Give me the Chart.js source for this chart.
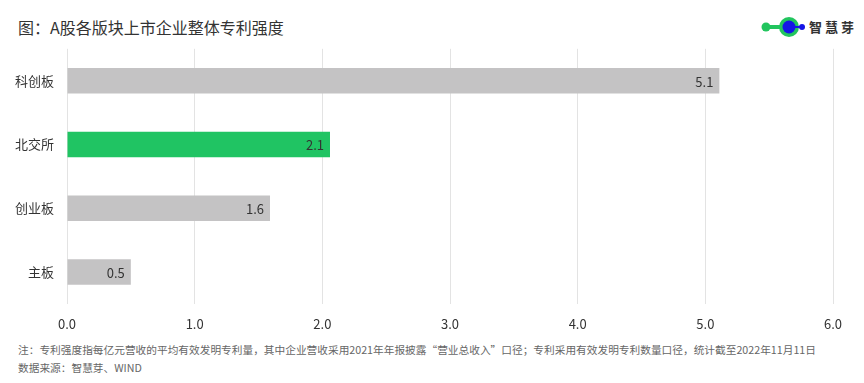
<!DOCTYPE html>
<html>
<head>
<meta charset="utf-8">
<script src="https://cdn.jsdelivr.net/npm/chart.js@4"></script>
<style>
  body { margin: 0; width: 864px; height: 383px; background: #fff; position: relative; overflow: hidden;
         font-family: "Noto Sans CJK SC", "Noto Sans", sans-serif; }
  #title { position: absolute; left: 18px; top: 15px; font-size: 16px; color: #333; }
  #logo { position: absolute; left: 760px; top: 16px; }
  #logoText { position: absolute; left: 809px; top: 17px; font-size: 13px; font-weight: bold; color: #333; letter-spacing: 3px; }
  #wrap { position: absolute; left: 0; top: 28px; width: 864px; height: 306px; }
  .note { position: absolute; left: 18px; font-size: 10.7px; color: #666; white-space: nowrap; }
</style>
</head>
<body>
<div id="title">图：A股各版块上市企业整体专利强度</div>
<svg id="logo" width="48" height="22">
  <line x1="6" y1="11" x2="29" y2="11" stroke="#22c55e" stroke-width="4"/>
  <circle cx="6" cy="11" r="4.5" fill="#22c55e"/>
  <circle cx="29" cy="11" r="10" fill="#22c55e"/>
  <line x1="29" y1="11" x2="42" y2="11" stroke="#1515e6" stroke-width="2"/>
  <circle cx="29" cy="11" r="6.5" fill="#1515e6"/>
  <circle cx="42" cy="11" r="3" fill="#1515e6"/>
</svg>
<div id="logoText">智慧芽</div>
<div id="wrap"><canvas id="chart"></canvas></div>
<div class="note" style="top:342px">注：专利强度指每亿元营收的平均有效发明专利量，其中企业营收采用2021年年报披露“营业总收入”口径；专利采用有效发明专利数量口径，统计截至2022年11月11日</div>
<div class="note" style="top:360px">数据来源：智慧芽、WIND</div>
<script>
const categories = ['科创板', '北交所', '创业板', '主板'];
const values = [5.11, 2.06, 1.59, 0.5];
const barColors = ['#c4c3c4', '#20c463', '#c4c3c4', '#c4c3c4'];
const xTicks = [0, 1, 2, 3, 4, 5, 6];

const valueLabels = {
  id: 'valueLabels',
  afterDatasetsDraw(chart) {
    const ctx = chart.ctx;
    const meta = chart.getDatasetMeta(0);
    ctx.save();
    ctx.font = '13px "Noto Sans CJK SC", "Noto Sans", sans-serif';
    ctx.fillStyle = '#333';
    ctx.textAlign = 'right';
    ctx.textBaseline = 'middle';
    meta.data.forEach((bar, i) => {
      ctx.fillText(values[i].toFixed(1), bar.x - 6, bar.y + 1);
    });
    ctx.restore();
  }
};

new Chart(document.getElementById('chart'), {
  type: 'bar',
  data: {
    labels: categories,
    datasets: [{
      data: values,
      backgroundColor: barColors,
      borderWidth: 0,
      barPercentage: 0.4,
      categoryPercentage: 1
    }]
  },
  options: {
    indexAxis: 'y',
    responsive: true,
    maintainAspectRatio: false,
    animation: false,
    layout: { padding: { top: 5, right: 31, left: 0, bottom: 0 } },
    plugins: { legend: { display: false }, tooltip: { enabled: false } },
    scales: {
      x: {
        min: 0, max: 6,
        afterBuildTicks: s => { s.ticks = xTicks.map(v => ({ value: v })); },
        afterFit: s => { s.height = 30; },
        grid: { color: '#e3e3e3', drawTicks: false },
        border: { display: false },
        ticks: {
          padding: 12,
          color: '#333',
          font: { size: 13, family: '"Noto Sans CJK SC", "Noto Sans", sans-serif' },
          callback: v => Number(v).toFixed(1)
        }
      },
      y: {
        afterFit: s => { s.width = 67; },
        grid: { display: false, drawTicks: false },
        border: { display: false },
        ticks: {
          padding: 13,
          color: '#333',
          font: { size: 13, family: '"Noto Sans CJK SC", "Noto Sans", sans-serif' }
        }
      }
    }
  },
  plugins: [valueLabels]
});
</script>
</body>
</html>
